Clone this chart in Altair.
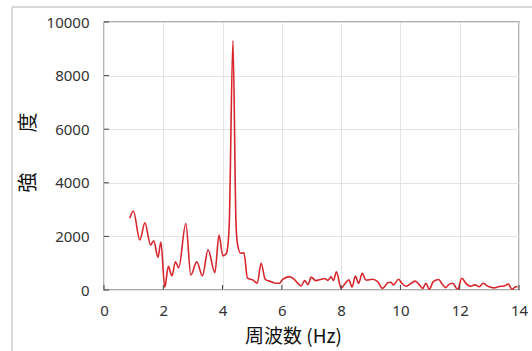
import altair as alt
import pandas as pd

# Spectrum: frequency (Hz) and intensity
freq = [0.87, 0.99, 1.21, 1.38, 1.57, 1.68, 1.82, 1.92, 2.05, 2.17, 2.29, 2.41,
        2.52, 2.76, 2.93, 3.13, 3.32, 3.51, 3.74, 3.88, 4.01, 4.13, 4.22, 4.35,
        4.45, 4.50, 4.61, 4.72, 4.84, 5.03, 5.17, 5.30, 5.44, 5.64, 5.79, 5.92,
        6.03, 6.26, 6.37, 6.54, 6.65, 6.77, 6.88, 6.99, 7.14, 7.33, 7.44, 7.55,
        7.66, 7.74, 7.84, 8.00, 8.14, 8.26, 8.37, 8.48, 8.59, 8.71, 8.84, 9.06,
        9.23, 9.40, 9.57, 9.68, 9.76, 9.94, 10.05, 10.19, 10.36, 10.50, 10.64,
        10.75, 10.86, 10.97, 11.11, 11.29, 11.40, 11.53, 11.62, 11.76, 11.93,
        12.07, 12.21, 12.37, 12.52, 12.66, 12.79, 12.97, 13.16, 13.33, 13.50,
        13.64, 13.76, 13.87, 13.95]
intensity = [2674, 2947, 1865, 2510, 1680, 1840, 1220, 1790, 100, 880, 530, 1055,
             830, 2480, 560, 1055, 530, 1500, 650, 2050, 1270, 1370, 2300, 9300,
             2600, 1740, 1370, 1390, 440, 370, 250, 1000, 400, 310, 250, 250,
             400, 500, 440, 250, 150, 350, 200, 480, 350, 400, 430, 360,
             490, 350, 680, 65, 250, 380, 110, 520, 250, 620, 370, 400,
             310, 60, 270, 290, 190, 400, 250, 140, 250, 330, 190,
             60, 250, 30, 310, 390, 230, 90, 190, 250, 30,
             440, 250, 140, 190, 120, 250, 130, 80, 130, 150,
             220, 30, 110, 130]

x_ticks = [0, 2, 4, 6, 8, 10, 12, 14]
y_ticks = [0, 2000, 4000, 6000, 8000, 10000]

W, H = 415, 268
LABEL_FONT = "Noto Sans"
TITLE_FONT = "Noto Sans CJK JP"

df = pd.DataFrame({"f": freq, "v": intensity})
xt = pd.DataFrame({"t": x_ticks})
yt = pd.DataFrame({"t": y_ticks})

x_scale = alt.Scale(domain=[0, 14], nice=False, zero=False)
y_scale = alt.Scale(domain=[0, 10000], nice=False)

line = alt.Chart(df).mark_line(
    color="#d7262c", strokeWidth=1.6, interpolate="monotone"
).encode(
    x=alt.X("f:Q", scale=x_scale,
            axis=alt.Axis(values=x_ticks, format="d", title="周波数 (Hz)", grid=True,
                          gridColor="#e4e4e4", domain=False, ticks=False,
                          labelFlush=False, labelBound=False,
                          labelFont=LABEL_FONT, labelFontSize=15,
                          labelColor="#333333", labelPadding=13,
                          titleFont=TITLE_FONT, titleFontSize=19,
                          titleFontWeight="normal", titleColor="#111111",
                          titleX=189, titleY=46, titleAlign="center",
                          titleBaseline="middle")),
    y=alt.Y("v:Q", scale=y_scale,
            axis=alt.Axis(values=y_ticks, format="d", title="強　　度", grid=True,
                          gridColor="#e4e4e4", domain=False, ticks=False,
                          labelFlush=False, labelBound=False,
                          labelFont=LABEL_FONT, labelFontSize=15,
                          labelColor="#333333", labelPadding=15,
                          titleFont=TITLE_FONT, titleFontSize=20,
                          titleFontWeight="normal", titleColor="#111111",
                          titleAngle=-90, titleX=-76, titleY=130,
                          titleAlign="center", titleBaseline="middle")),
)

# Inward tick marks along the bottom and left edges
x_tick_marks = alt.Chart(xt).mark_rule(color="#404040", strokeWidth=1).encode(
    x=alt.X("t:Q", scale=x_scale),
    y=alt.value(H), y2=alt.value(H - 5),
)
y_tick_marks = alt.Chart(yt).mark_rule(color="#404040", strokeWidth=1).encode(
    y=alt.Y("t:Q", scale=y_scale),
    x=alt.value(0), x2=alt.value(5),
)

# Light outer frame of the chart area
frame_top = alt.Chart(xt).mark_rule(color="#d9d9d9", strokeWidth=1, clip=False).encode(
    x=alt.value(-92), x2=alt.value(W + 20), y=alt.value(-15)
)
frame_left = alt.Chart(xt).mark_rule(color="#d9d9d9", strokeWidth=1, clip=False).encode(
    x=alt.value(-92), y=alt.value(-15), y2=alt.value(H + 70)
)

chart = alt.layer(
    frame_top, frame_left, line, x_tick_marks, y_tick_marks
).properties(
    width=W, height=H,
    autosize=alt.AutoSizeParams(type="none"),
    padding={"left": 104, "top": 22, "right": 13, "bottom": 61},
    background="white",
).configure_view(
    stroke="#595959", strokeWidth=1.3
)

chart.save("out.html", embed_options={"renderer": "svg", "actions": False})
